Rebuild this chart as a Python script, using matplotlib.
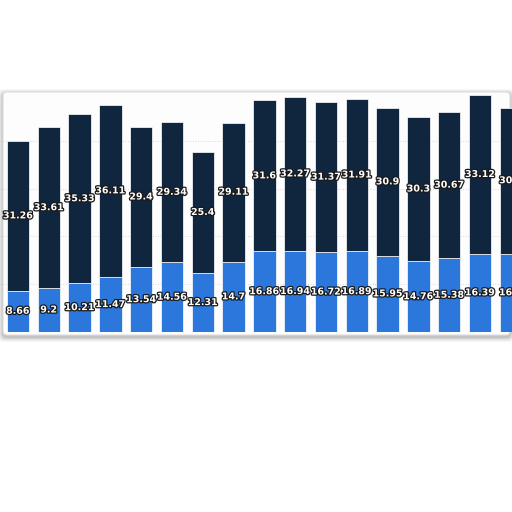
#!/usr/bin/env python3
import matplotlib
matplotlib.use("Agg")
import matplotlib.pyplot as plt
import matplotlib.patheffects as pe
from matplotlib.patches import FancyBboxPatch
import numpy as np

# values, bottom (blue) and top (navy) segments
lower = [8.66, 9.2, 10.21, 11.47, 13.54, 14.56, 12.31, 14.7, 16.86,
         16.94, 16.72, 16.89, 15.95, 14.76, 15.38, 16.39, 16.4]
upper = [31.26, 33.61, 35.33, 36.11, 29.4, 29.34, 25.4, 29.11, 31.6,
         32.27, 31.37, 31.91, 30.9, 30.3, 30.67, 33.12, 30.5]
lower_labels = ["8.66", "9.2", "10.21", "11.47", "13.54", "14.56", "12.31", "14.7",
                "16.86", "16.94", "16.72", "16.89", "15.95", "14.76", "15.38", "16.39", "16.4"]
upper_labels = ["31.26", "33.61", "35.33", "36.11", "29.4", "29.34", "25.4", "29.11",
                "31.6", "32.27", "31.37", "31.91", "30.9", "30.3", "30.67", "33.12", "30.5"]

BLUE = "#2c77dc"
NAVY = "#10263f"

W = H = 512
fig = plt.figure(figsize=(W / 100, H / 100), dpi=100)
fig.patch.set_facecolor("white")

# frame with a soft shadow behind the plot area
fx0, fx1 = 3 / W, 510 / W
fy0, fy1 = 1 - 335 / H, 1 - 92 / H
for i, a in enumerate([0.04, 0.05, 0.07, 0.09]):
    off = (4 - i) * 1.2 / W
    fig.patches.append(FancyBboxPatch(
        (fx0 - off, fy0 - off - 2 / H), (fx1 - fx0) + 2 * off, (fy1 - fy0) + 2 * off,
        boxstyle="round,pad=0,rounding_size=0.01", transform=fig.transFigure,
        facecolor="#000000", edgecolor="none", alpha=a, zorder=-3))
fig.patches.append(FancyBboxPatch(
    (fx0, fy0), fx1 - fx0, fy1 - fy0,
    boxstyle="round,pad=0,rounding_size=0.008", transform=fig.transFigure,
    facecolor="#fdfdfd", edgecolor="#dddddd", linewidth=0.8, zorder=-2))

# axes spans the whole width so the outer bars get clipped at the edges
px_per_bar = 30.8
first_center = 18
ax = fig.add_axes([0, 1 - 332 / H, 1, (332 - 93) / H])
ax.set_facecolor("none")
ax.set_xlim(-first_center / px_per_bar, (W - first_center) / px_per_bar)
ax.set_ylim(0, 50)

x = np.arange(len(lower))
width = 22.5 / px_per_bar
ax.bar(x, lower, width=width, color=BLUE, edgecolor="white", linewidth=0.5, zorder=2)
ax.bar(x, upper, width=width, bottom=lower, color=NAVY, edgecolor="white",
       linewidth=0.5, zorder=2)

for v in [10, 20, 30, 40]:
    ax.axhline(v, color="#cccccc", linewidth=0.6, linestyle=(0, (1, 2)), zorder=1)

stroke = [pe.withStroke(linewidth=1.8, foreground="#1a1a1a")]
for xi, lo, up, lo_t, up_t in zip(x, lower, upper, lower_labels, upper_labels):
    ax.text(xi, lo / 2, lo_t, ha="center", va="center", color="white",
            fontsize=6.8, fontweight="bold", path_effects=stroke, zorder=3)
    ax.text(xi, lo + up / 2, up_t, ha="center", va="center", color="white",
            fontsize=6.8, fontweight="bold", path_effects=stroke, zorder=3)

for s in ax.spines.values():
    s.set_visible(False)
ax.set_xticks([])
ax.set_yticks([])

fig.savefig("out.png", dpi=100, facecolor="white")
